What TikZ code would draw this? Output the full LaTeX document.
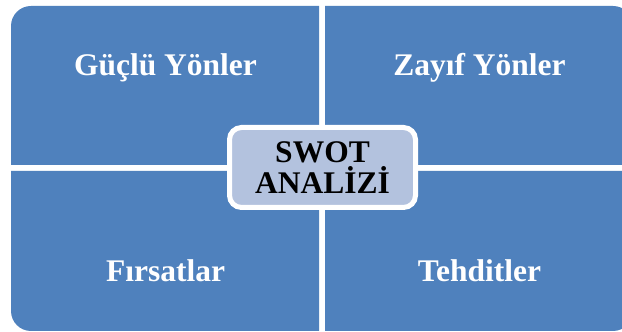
\documentclass[tikz,border=0pt]{standalone}
\usepackage{fontspec}
\setmainfont{Liberation Serif}
\definecolor{quadblue}{HTML}{4F81BD}
\definecolor{centerblue}{HTML}{B3C2DE}
\begin{document}
\begin{tikzpicture}[x=1pt,y=1pt,
  quad/.style={fill=quadblue},
  quadtext/.style={text=white,font=\bfseries\fontsize{31.5}{31}\selectfont,anchor=base,inner sep=0pt},
  centerbox/.style={draw=white,line width=5pt,fill=centerblue,rounded corners=12pt,
    minimum width=186pt,minimum height=80pt,align=center,inner sep=0pt,
    font=\bfseries\fontsize{31.5}{31}\selectfont,text=black}]
\useasboundingbox (0,0) rectangle (622,332);
\clip (0,0) rectangle (622,332);
\fill[white] (0,0) rectangle (622,332);
% quadrants
\fill[quad] (319,167) -- (11,167) -- (11,306) arc[start angle=180,end angle=90,radius=20] -- (319,326) -- cycle;
\fill[quad] (325,167) -- (633,167) -- (633,306) arc[start angle=0,end angle=90,radius=20] -- (325,326) -- cycle;
\fill[quad] (319,161) -- (11,161) -- (11,21) arc[start angle=180,end angle=270,radius=20] -- (319,1) -- cycle;
\fill[quad] (325,161) -- (633,161) -- (633,21) arc[start angle=0,end angle=-90,radius=20] -- (325,1) -- cycle;
% labels
\node[quadtext] (s) at (165.5,256) {Güçlü Yönler};
\node[quadtext] (w) at (479.5,256) {Zayıf Yönler};
\node[quadtext] (o) at (165.5,50) {Fırsatlar};
\node[quadtext] (t) at (479.5,50) {Tehditler};
% center
\node[centerbox] (swot) at (322.5,164.5) {SWOT\\ANALİZİ};
\end{tikzpicture}
\end{document}
